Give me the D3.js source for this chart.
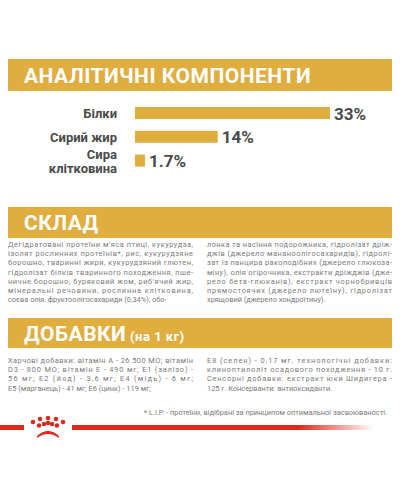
<!DOCTYPE html>
<html><head><meta charset="utf-8">
<script src="https://cdn.jsdelivr.net/npm/d3@7"></script>
<style>body{margin:0;background:#fff}</style></head>
<body><div id="chart"></div>
<script>
// analytic components
const nutrients = [["Білки"], ["Сирий жир"], ["Сира", "клітковина"]];
const percents = [33, 14, 1.7];
const percentLabels = ["33%", "14%", "1.7%"];

const compositionLeft = [
  "Дегідратовані протеїни м'яса птиці, кукурудза,",
  "ізолят рослинних протеїнів*, рис, кукурудзяне",
  "борошно, тваринні жири, кукурудзяний глютен,",
  "гідролізат білків тваринного походження, пше-",
  "ничне борошно, буряковий жом, риб'ячий жир,",
  "мінеральні речовини, рослинна клітковина,",
  "соєва олія, фруктоолігосахариди (0,34%), обо-"
];
const compositionRight = [
  "лонка та насіння подорожника, гідролізат дріж-",
  "джів (джерело мананоолігосахаридів), гідролі-",
  "зат із панцира ракоподібних (джерело глюкоза-",
  "міну), олія огірочника, екстракти дріжджів (дже-",
  "рело бета-глюканів), екстракт чорнобривців",
  "прямостоячих (джерело лютеїну), гідролізат",
  "хрящовий (джерело хондроїтину)."
];
const additivesLeft = [
  "Харчові добавки: вітамін А - 26 500 МО; вітамін",
  "D3 - 800 МО; вітамін Е - 490 мг; Е1 (залізо) -",
  "56 мг; Е2 (йод) - 3,6 мг; Е4 (мідь) - 6 мг;",
  "Е5 (марганець) - 41 мг; Е6 (цинк) - 119 мг;"
];
const additivesRight = [
  "Е8 (селен) - 0,17 мг. технологічні добавки:",
  "клиноптилоліт осадового походження - 10 г.",
  "Сенсорні добавки: екстракт юки Шидигера -",
  "125 г. Консерванти: антиоксиданти."
];
const footnote = "* L.I.P. - протеїни, відібрані за принципом оптимальної засвоюваності.";

const gold = "#e0ad3f", dark = "#4a4a4a", body = "#7a7a7a", red = "#dc2a1f";
const svg = d3.select("#chart").append("svg").attr("width", 400).attr("height", 500)
  .style("font-family", "Roboto, sans-serif");

function banner(y, h, title, sub) {
  svg.append("rect").attr("x", 8).attr("y", y).attr("width", 384).attr("height", h).attr("fill", gold);
  const t = svg.append("text").attr("x", 24).attr("y", y + h / 2 + 7.5)
    .attr("fill", "#fff").style("font-weight", "bold").style("font-size", "21px")
    .style("letter-spacing", "0.5px").text(title);
  if (sub) t.append("tspan").style("font-size", "13px").text(" " + sub);
}
banner(59, 32, "АНАЛІТИЧНІ КОМПОНЕНТИ");
banner(207, 31, "СКЛАД");
banner(318, 30, "ДОБАВКИ", "(на 1 кг)");

// bars
const x = d3.scaleLinear().domain([0, 33]).range([135, 330]);
const y = d3.scaleBand().domain(d3.range(3)).range([103, 172]).paddingInner(0.1);
const g = svg.append("g");
g.selectAll("rect.bar").data(percents).join("rect").attr("class", "bar")
  .attr("x", x(0)).attr("y", (d, i) => y(i) + 4).attr("width", d => x(d) - x(0))
  .attr("height", 12).attr("fill", gold);
g.selectAll("text.pct").data(percents).join("text").attr("class", "pct")
  .attr("x", d => x(d) + 4).attr("y", (d, i) => y(i) + 16.5)
  .attr("fill", dark).style("font-weight", "bold").style("font-size", "17px")
  .text((d, i) => percentLabels[i]);
g.selectAll("text.lab").data(nutrients).join("text").attr("class", "lab")
  .attr("text-anchor", "end").attr("fill", dark).style("font-weight", "bold").style("font-size", "13px")
  .each(function (d, i) {
    const base = d.length > 1 ? y(i) + 8 : y(i) + 15;
    d.forEach((s, k) => d3.select(this).append("tspan").attr("x", 117).attr("y", base + k * 14).text(s));
  });

function para(lines, x0, y0, w) {
  svg.append("g").selectAll("text").data(lines).join("text")
    .attr("x", x0).attr("y", (d, i) => y0 + i * 9.2)
    .attr("fill", body).style("font-size", "7.4px")
    .attr("textLength", (d, i) => i < lines.length - 1 ? w : null)
    .attr("lengthAdjust", "spacing").text(d => d);
}
para(compositionLeft, 8, 247, 185);
para(compositionRight, 207, 247, 185);
para(additivesLeft, 8, 363, 185);
para(additivesRight, 207, 363, 185);

svg.append("text").attr("x", 387).attr("y", 415).attr("text-anchor", "end")
  .attr("fill", body).style("font-size", "7.4px").text(footnote);

// red rule with crown
const grad = svg.append("defs").append("linearGradient").attr("id", "fade");
grad.append("stop").attr("offset", "0.75").attr("stop-color", red);
grad.append("stop").attr("offset", "1").attr("stop-color", red).attr("stop-opacity", 0);
svg.append("rect").attr("x", 0).attr("y", 425).attr("width", 24).attr("height", 5).attr("fill", red);
svg.append("rect").attr("x", 72).attr("y", 425).attr("width", 302).attr("height", 5).attr("fill", "url(#fade)");
const crown = svg.append("g").attr("fill", red);
[[40, 419], [48, 418], [56, 419], [33, 422], [63, 422], [44, 424], [52, 424], [39, 425.5], [57, 425.5], [48, 423]]
  .forEach(([cx, cy]) => crown.append("circle").attr("cx", cx).attr("cy", cy).attr("r", 2.3));
crown.append("path").attr("d", "M37,436 Q48,426 59,436 L59,438 Q48,430 37,438 Z");
</script></body></html>
